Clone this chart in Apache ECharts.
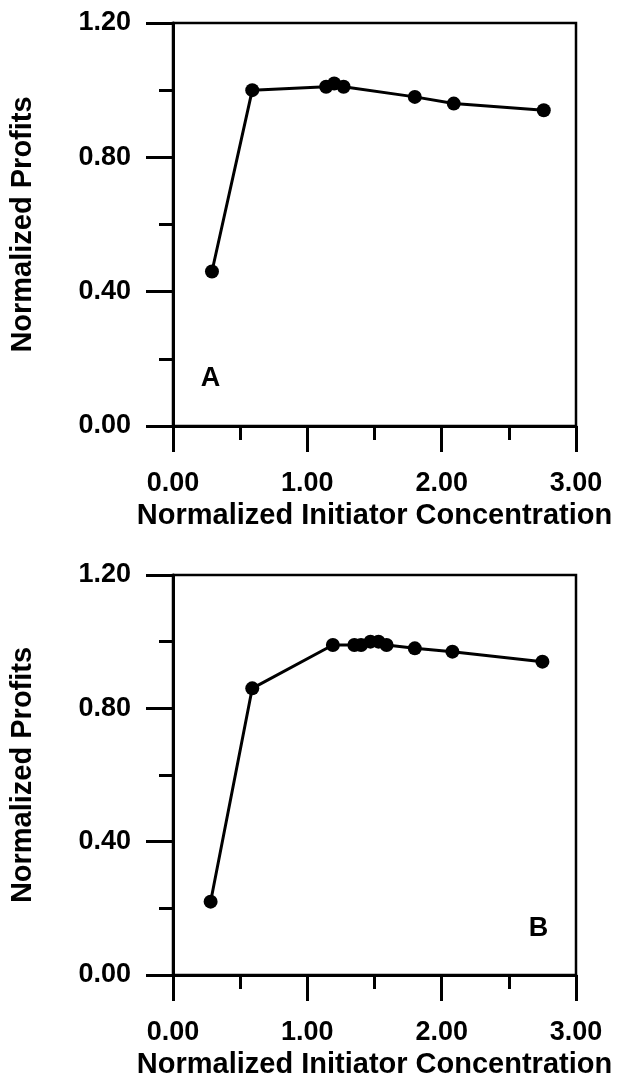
<!DOCTYPE html>
<html>
<head>
<meta charset="utf-8">
<script src="https://cdn.jsdelivr.net/npm/echarts@6/dist/echarts.min.js"></script>
<style>
  html, body { margin: 0; padding: 0; background: #fff; }
  #chart { width: 618px; height: 1080px; }
</style>
</head>
<body>
<div id="chart"></div>
<script>
// Panel A data
const xA = [0.29, 0.59, 1.14, 1.20, 1.27, 1.80, 2.09, 2.76];
const yA = [0.46, 1.00, 1.01, 1.02, 1.01, 0.98, 0.96, 0.94];
// Panel B data
const xB = [0.28, 0.59, 1.19, 1.35, 1.40, 1.47, 1.53, 1.59, 1.80, 2.08, 2.75];
const yB = [0.22, 0.86, 0.99, 0.99, 0.99, 1.00, 1.00, 0.99, 0.98, 0.97, 0.94];
// Panel letters
const panelLabels = ['A', 'B'];
const panelLabelPos = [[0.28, 0.14], [2.72, 0.14]];
// Axis ticks
const xTicks = [0, 1, 2, 3];
const yTicks = [0, 0.4, 0.8, 1.2];
const xTitle = 'Normalized Initiator Concentration';
const yTitle = 'Normalized Profits';

const FONT = '"Liberation Sans", Arial, sans-serif';
const black = '#000';

function pairs(xs, ys) { return xs.map((x, i) => [x, ys[i]]); }

function xAxis(gridIndex) {
  return {
    gridIndex, type: 'value', min: xTicks[0], max: xTicks[xTicks.length - 1], interval: 1,
    name: xTitle, nameLocation: 'middle', nameGap: 75,
    nameTextStyle: { fontFamily: FONT, fontWeight: 'bold', fontSize: 29, color: black },
    axisLine: { show: true, onZero: false, lineStyle: { color: black, width: 3 } },
    axisTick: { show: true, inside: false, length: 26, lineStyle: { color: black, width: 3 } },
    minorTick: { show: true, splitNumber: 2, length: 14, lineStyle: { color: black, width: 3 } },
    splitLine: { show: false },
    axisLabel: { fontFamily: FONT, fontWeight: 'bold', fontSize: 27, color: black, margin: 44,
      formatter: v => v.toFixed(2) }
  };
}
function yAxis(gridIndex) {
  return {
    gridIndex, type: 'value', min: yTicks[0], max: yTicks[yTicks.length - 1], interval: 0.4,
    name: yTitle, nameLocation: 'middle', nameGap: 136, nameRotate: 90,
    nameTextStyle: { fontFamily: FONT, fontWeight: 'bold', fontSize: 29, color: black },
    axisLine: { show: true, onZero: false, lineStyle: { color: black, width: 3 } },
    axisTick: { show: true, inside: false, length: 27, lineStyle: { color: black, width: 3 } },
    minorTick: { show: true, splitNumber: 2, length: 14, lineStyle: { color: black, width: 3 } },
    splitLine: { show: false },
    axisLabel: { fontFamily: FONT, fontWeight: 'bold', fontSize: 27, color: black, margin: 42,
      formatter: v => v.toFixed(2) }
  };
}
function lineSeries(idx, data) {
  return {
    type: 'line', xAxisIndex: idx, yAxisIndex: idx, data,
    symbol: 'circle', symbolSize: 14, showSymbol: true,
    lineStyle: { color: black, width: 3 },
    itemStyle: { color: black, opacity: 1 },
    animation: false, z: 3
  };
}
function letterSeries(idx) {
  return {
    type: 'scatter', xAxisIndex: idx, yAxisIndex: idx,
    data: [panelLabelPos[idx]], symbolSize: 1,
    itemStyle: { color: 'rgba(0,0,0,0)', opacity: 1 },
    label: { show: true, position: 'inside', formatter: panelLabels[idx], opacity: 1,
      fontFamily: FONT, fontWeight: 'bold', fontSize: 27, color: black,
      textBorderWidth: 0 },
    silent: true, animation: false
  };
}

const chart = echarts.init(document.getElementById('chart'), null, { renderer: 'canvas' });
chart.setOption({
  backgroundColor: '#fff',
  animation: false,
  grid: [
    { left: 173, top: 23, width: 403, height: 403, show: true, borderColor: black, borderWidth: 2.5 },
    { left: 173, top: 575, width: 403, height: 401, show: true, borderColor: black, borderWidth: 2.5 }
  ],
  xAxis: [xAxis(0), xAxis(1)],
  yAxis: [yAxis(0), yAxis(1)],
  series: [
    lineSeries(0, pairs(xA, yA)),
    lineSeries(1, pairs(xB, yB)),
    letterSeries(0),
    letterSeries(1)
  ]
});
</script>
</body>
</html>
